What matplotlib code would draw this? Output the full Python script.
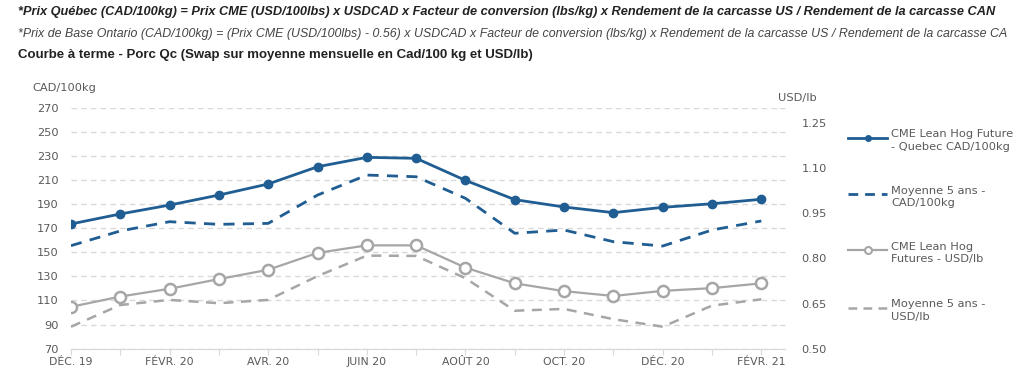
import matplotlib
matplotlib.use("Agg")
import matplotlib.pyplot as plt
from matplotlib.lines import Line2D
import numpy as np

# data
months = ["DÉC. 19", "JANV. 20", "FÉVR. 20", "MARS 20", "AVR. 20", "MAI 20", "JUIN 20",
          "JUIL. 20", "AOÛT 20", "SEPT. 20", "OCT. 20", "NOV. 20", "DÉC. 20", "JANV. 21", "FÉVR. 21"]
qc_cad = [173.5, 181.8, 189.2, 197.5, 206.7, 221.0, 228.8, 228.0, 209.7, 193.7, 187.6, 182.9, 187.3, 190.3, 194.0]
avg5_cad = [155.5, 167.7, 175.4, 173.2, 174.0, 197.5, 214.1, 212.7, 194.8, 165.8, 168.5, 158.8, 155.2, 168.5, 176.0]
cme_usd = [0.639, 0.673, 0.699, 0.731, 0.762, 0.818, 0.843, 0.843, 0.769, 0.717, 0.691, 0.675, 0.692, 0.701, 0.717]
avg5_usd = [0.573, 0.645, 0.662, 0.651, 0.662, 0.741, 0.809, 0.808, 0.734, 0.626, 0.632, 0.598, 0.573, 0.643, 0.664]

left_ticks = [70, 90, 110, 130, 150, 170, 190, 210, 230, 250, 270]
right_ticks = [0.50, 0.65, 0.80, 0.95, 1.10, 1.25]

labels = ["CME Lean Hog Future\n- Quebec CAD/100kg", "Moyenne 5 ans -\nCAD/100kg",
          "CME Lean Hog\nFutures - USD/lb", "Moyenne 5 ans -\nUSD/lb"]

title1 = ("*Prix Québec (CAD/100kg) = Prix CME (USD/100lbs) x USDCAD x Facteur de conversion (lbs/kg) "
          "x Rendement de la carcasse US / Rendement de la carcasse CAN")
title2 = ("*Prix de Base Ontario (CAD/100kg) = (Prix CME (USD/100lbs) - 0.56) x USDCAD x Facteur de conversion "
          "(lbs/kg) x Rendement de la carcasse US / Rendement de la carcasse CA")
title3 = "Courbe à terme - Porc Qc (Swap sur moyenne mensuelle en Cad/100 kg et USD/lb)"

blue = "#1f5d92"
gray = "#a6a6a6"
txt = "#595959"
grid_c = "#d9d9d9"

plt.rcParams["font.family"] = ["DejaVu Sans"]

fig = plt.figure(figsize=(10.24, 3.81), dpi=100)
ax = fig.add_axes([0.0693, 0.0848, 0.6973, 0.6325])
ax2 = ax.twinx()

x = np.arange(len(months))

ax.plot(x, qc_cad, color=blue, lw=2, marker="o", ms=6, zorder=4)
ax.plot(x, avg5_cad, color=blue, lw=2, ls=(0, (4, 3)), zorder=3)
ax2.plot(x, cme_usd, color=gray, lw=1.6, marker="o", ms=8, mfc="white", mec=gray, mew=1.8, zorder=4)
ax2.plot(x, avg5_usd, color=gray, lw=1.8, ls=(0, (4, 3)), zorder=3)

ax.set_xlim(0, 14.48)
ax.set_ylim(70, 270)
ax2.set_ylim(0.50, 1.30)

ax.set_yticks(left_ticks)
ax.set_yticklabels([str(v) for v in left_ticks])
ax.yaxis.grid(True, color=grid_c, ls=(0, (4, 3)), lw=1)
ax.set_axisbelow(True)

ax2.set_yticks(right_ticks)
ax2.set_yticklabels([f"{v:.2f}" for v in right_ticks])
ax2.set_yticks(np.arange(0.50, 1.31, 0.08), minor=True)
ax2.tick_params(axis="y", which="major", length=0, pad=12, labelsize=8.2, labelcolor=txt)
ax2.tick_params(axis="y", which="minor", length=4, direction="in", color=grid_c)

ax.set_xticks(x)
ax.set_xticklabels([m if i % 2 == 0 else "" for i, m in enumerate(months)])
ax.tick_params(axis="x", length=4, color=grid_c, labelsize=7.8, labelcolor=txt, pad=2)
ax.tick_params(axis="y", length=0, labelsize=8.2, labelcolor=txt, pad=9)

for a in (ax, ax2):
    for s in ("top", "left", "right"):
        a.spines[s].set_visible(False)
    a.spines["bottom"].set_color(grid_c)

fig.text(0.032, 0.768, "CAD/100kg", fontsize=8.2, color=txt, va="center")
fig.text(0.798, 0.742, "USD/lb", fontsize=8.2, color=txt, va="center", ha="right")

# titles
fig.text(0.018, 0.968, title1, fontsize=9.2, fontweight="bold", style="italic", color="#222222",
         family="Liberation Sans", va="center")
fig.text(0.018, 0.912, title2, fontsize=8.9, style="italic", color="#444444",
         family="Liberation Sans", va="center")
fig.text(0.018, 0.855, title3, fontsize=9.5, fontweight="bold", color="#222222",
         family="Liberation Sans", va="center")

# legend, drawn manually to keep the handle on the first label line
leg_styles = [
    dict(color=blue, lw=2, marker="o", ms=4),
    dict(color=blue, lw=2, ls=(0, (3.5, 2.5))),
    dict(color=gray, lw=1.6, marker="o", ms=5, mfc="white", mec=gray, mew=1.5),
    dict(color=gray, lw=1.8, ls=(0, (3.5, 2.5))),
]
leg_y = [137.7, 194.0, 250.0, 307.7]
for lab, st, yp in zip(labels, leg_styles, leg_y):
    yf = 1 - yp / 381
    fig.add_artist(Line2D([848 / 1024, 887 / 1024], [yf, yf], markevery=[], **st))
    if "marker" in st:
        fig.add_artist(Line2D([867.5 / 1024], [yf], **st))
    fig.text(891 / 1024, yf + 0.022, lab, fontsize=8.2, color=txt, va="top", linespacing=1.3)

fig.savefig("out.png", dpi=100)
